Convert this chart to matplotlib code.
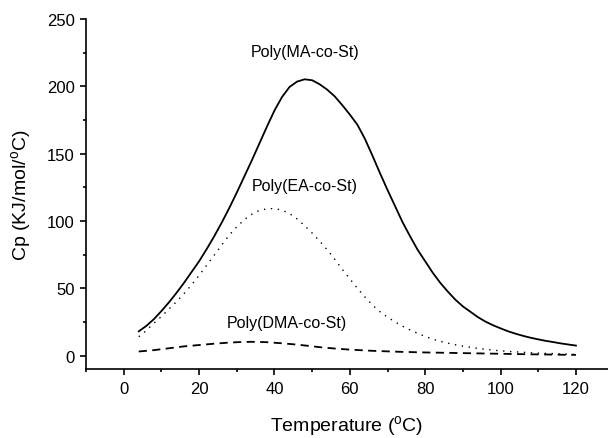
import matplotlib
matplotlib.use("Agg")
import matplotlib.pyplot as plt
from matplotlib.ticker import MultipleLocator

plt.rcParams['font.family'] = ['Liberation Sans', 'DejaVu Sans']
plt.rcParams['mathtext.default'] = 'regular'

# Temperature points (deg C), every 2 degrees from 4 to 120
temp = list(range(4, 121, 2))

# Cp values (KJ/mol/C)
cp_ma = [18, 22, 27, 33, 39.5, 46.5, 54, 62, 70, 79,
         88.5, 98.7, 109.5, 121, 133, 145, 157.5, 170, 182, 192,
         199.5, 203.5, 205.2, 204.5, 201.5, 197.5, 192.5, 186, 179, 171.5,
         161, 148.5, 135.5, 123, 111, 99, 88.5, 78.5, 70, 61.5,
         54, 47.5, 41.5, 36.5, 32.5, 28.5, 25.2, 22.5, 20.2, 18,
         16.2, 14.6, 13.2, 12, 10.9, 10, 9, 8.2, 7.4]
cp_ea = [14, 18.5, 24, 29, 34.5, 40, 46, 52.5, 59.5, 67,
         74.5, 82, 89.5, 95.5, 101, 105, 107.8, 109, 109.2, 108,
         105.5, 101.5, 96.5, 91, 85, 78.5, 71.5, 64, 57, 50,
         43.5, 37.5, 32.5, 28.5, 25, 21.8, 19, 16.5, 14.2, 12.2,
         10.5, 9.2, 8, 7, 6.1, 5.3, 4.6, 4, 3.5, 3.1,
         2.7, 2.4, 2.1, 1.8, 1.6, 1.4, 1.2, 1, 0.8]
cp_dma = [3, 3.5, 4, 4.7, 5.4, 6.1, 6.8, 7.3, 7.8, 8.3,
          8.8, 9.2, 9.6, 9.9, 10.1, 10.2, 10.1, 9.9, 9.5, 9.1,
          8.6, 8.1, 7.5, 6.9, 6.2, 5.7, 5.2, 4.8, 4.4, 4.1,
          3.8, 3.5, 3.3, 3.1, 2.9, 2.7, 2.6, 2.4, 2.3, 2.2,
          2.1, 2, 1.9, 1.8, 1.7, 1.6, 1.5, 1.4, 1.3, 1.2,
          1.1, 1, 0.9, 0.85, 0.8, 0.7, 0.6, 0.55, 0.5]

labels = ["Poly(MA-co-St)", "Poly(EA-co-St)", "Poly(DMA-co-St)"]

fig = plt.figure(figsize=(6.08, 4.39), dpi=100)
ax = fig.add_axes([86 / 608, 69 / 439, 522 / 608, 350 / 439])

ax.plot(temp, cp_ma, color="black", lw=1.3, linestyle="-")
ax.plot(temp, cp_ea, color="black", lw=1.0, linestyle=(0, (1, 4)))
ax.plot(temp, cp_dma, color="black", lw=1.3, linestyle=(0, (4.5, 3)))

# curve names written above each peak
ax.text(48.2, 226, labels[0], ha="center", va="center", fontsize=11.5)
ax.text(48, 126, labels[1], ha="center", va="center", fontsize=11.5)
ax.text(43.4, 24.3, labels[2], ha="center", va="center", fontsize=11.5)

ax.set_xlim(-10, 128.5)
ax.set_ylim(-10, 250)
ax.xaxis.set_major_locator(MultipleLocator(20))
ax.xaxis.set_minor_locator(MultipleLocator(10))
ax.yaxis.set_major_locator(MultipleLocator(50))
ax.yaxis.set_minor_locator(MultipleLocator(25))

ax.spines["top"].set_visible(False)
ax.spines["right"].set_visible(False)
ax.spines["left"].set_linewidth(1.2)
ax.spines["bottom"].set_linewidth(1.2)
ax.tick_params(which="major", direction="out", length=4, width=1.2, labelsize=12, pad=4)
ax.tick_params(which="minor", direction="out", length=2.5, width=1.2)
ax.tick_params(axis="x", pad=5)

ax.set_xlabel("Temperature ($^o$C)", fontsize=14, labelpad=12)
ax.set_ylabel("Cp (KJ/mol/$^o$C)", fontsize=14, labelpad=10)

fig.savefig("out.png", dpi=100)
